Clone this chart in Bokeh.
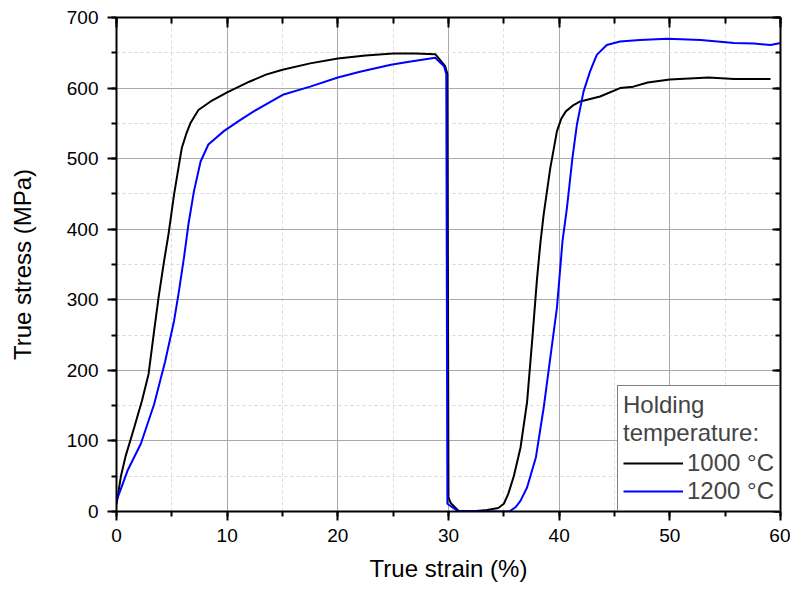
from bokeh.plotting import figure
from bokeh.models import (Range1d, LinearAxis, SingleIntervalTicker, Legend, LegendItem,
                          CustomLabelingPolicy)
from bokeh.embed import file_html
from bokeh.resources import INLINE

# --- data ---
strain_1000 = [0, 0.4, 0.8, 1.6, 2.3, 2.9, 3.4, 3.8, 4.3, 4.7, 5.2, 5.6, 5.9, 6.3, 6.7, 7.4, 8.5,
               10.0, 12.0, 13.5, 15.0, 17.5, 20.0, 22.5, 25.0, 27.0, 28.8, 29.7, 29.9, 30.0, 30.2,
               30.9, 32.0, 33.5, 34.5, 35.0, 35.4, 35.9, 36.5, 37.1, 37.6, 38.0, 38.3, 38.6, 39.2,
               39.8, 40.2, 40.6, 41.3, 41.9, 43.7, 45.5, 46.7, 48.0, 50.0, 52.2, 53.5, 55.8, 57.5, 59.1]
stress_1000 = [10, 50, 77, 119, 157, 195, 256, 303, 355, 393, 449, 487, 515, 535, 551, 569, 581,
               594, 609, 619, 626, 635, 642, 646, 649, 649, 648, 631, 620, 20, 12,
               1, 0, 2, 5, 11, 25, 50, 90, 155, 250, 330, 380, 421, 487,
               539, 557, 567, 576, 581, 588, 600, 602, 608, 612, 614, 615, 613, 613, 613]

strain_1200 = [0, 1.0, 2.2, 3.4, 4.4, 5.2, 5.6, 6.1, 6.5, 7.0, 7.6, 8.3, 9.7, 11.2, 12.4, 15.1,
               17.5, 20.0, 22.0, 24.8, 26.3, 28.8, 29.6, 29.8, 29.9, 30.8, 33.0, 35.5, 36.05, 36.5,
               37.1, 37.9, 38.6, 39.2, 39.8, 40.3, 40.7, 41.2, 41.6, 42.2, 42.8, 43.4, 44.3, 45.5,
               47.3, 49.8, 52.8, 55.8, 57.6, 59.1, 60.0]
stress_1200 = [15, 58, 96, 152, 213, 270, 308, 360, 407, 454, 496, 520, 539, 555, 567, 591,
               602, 615, 623, 633, 637, 643, 631, 620, 11, 1, 0, 0, 6, 15,
               34, 77, 147, 218, 289, 383, 430, 501, 548, 595, 624, 647, 661, 666,
               668, 670, 668, 664, 663, 661, 664]

series_labels = ["1000 °C", "1200 °C"]
legend_title = "Holding\ntemperature:"
x_label = "True strain (%)"
y_label = "True stress (MPa)"

FONT = "Liberation Sans"

p = figure(width=790, height=584, output_backend="svg", toolbar_location=None,
           x_range=Range1d(0, 60), y_range=Range1d(0, 700),
           min_border_left=116, min_border_right=10, min_border_top=17, min_border_bottom=71,
           background_fill_color="white", border_fill_color="white")
p.outline_line_color = None

xt = SingleIntervalTicker(interval=10, num_minor_ticks=2)
yt = SingleIntervalTicker(interval=100, num_minor_ticks=2)
p.xaxis.ticker = xt
p.yaxis.ticker = yt
p.xgrid.ticker = xt
p.ygrid.ticker = yt

for g in (p.xgrid, p.ygrid):
    g.grid_line_color = "#a9a9a9"
    g.grid_line_width = 1
    g.minor_grid_line_color = "#d9d9d9"
    g.minor_grid_line_dash = "3 3"
    g.minor_grid_line_width = 1

for ax in (p.xaxis[0], p.yaxis[0]):
    ax.axis_line_width = 2
    ax.axis_line_color = "black"
    ax.major_tick_line_width = 2
    ax.minor_tick_line_width = 2
    ax.major_tick_in = 0
    ax.major_tick_out = 9
    ax.minor_tick_in = 0
    ax.minor_tick_out = 5
    ax.major_label_text_font = FONT
    ax.major_label_text_font_size = "19px"
    ax.major_label_text_color = "black"
    ax.axis_label_text_font = FONT
    ax.axis_label_text_font_size = "24px"
    ax.axis_label_text_font_style = "normal"
    ax.axis_label_text_color = "black"

p.xaxis.axis_label = x_label
p.yaxis.axis_label = y_label
p.xaxis.major_label_standoff = 8
p.xaxis.axis_label_standoff = 10
p.yaxis.major_label_standoff = 9
p.yaxis.axis_label_standoff = 28

# top and right frame axes with inward ticks and no labels
hide_all = CustomLabelingPolicy(code="for (const i of indices) indices.unset(i); return indices")
top = LinearAxis(ticker=xt)
right = LinearAxis(ticker=yt)
for ax, din, dmin in ((top, 10, 6), (right, 8, 5)):
    ax.axis_line_width = 2
    ax.major_tick_line_width = 2
    ax.minor_tick_line_width = 2
    ax.major_tick_in = din
    ax.major_tick_out = 0
    ax.minor_tick_in = dmin
    ax.minor_tick_out = 0
    ax.major_label_policy = hide_all
    ax.major_label_text_font_size = "1px"
    ax.major_label_standoff = 0
p.add_layout(top, "above")
p.add_layout(right, "right")

r1 = p.line(strain_1000, stress_1000, line_color="black", line_width=2)
r2 = p.line(strain_1200, stress_1200, line_color="#0000ff", line_width=2)

legend = Legend(items=[LegendItem(label=series_labels[0], renderers=[r1]),
                       LegendItem(label=series_labels[1], renderers=[r2])],
                location="bottom_right", title=legend_title)
legend.margin = 0
legend.padding = 5
legend.spacing = 0
legend.glyph_width = 60
legend.glyph_height = 28
legend.label_height = 28
legend.label_standoff = 4
legend.label_text_font = FONT
legend.label_text_font_size = "24px"
legend.title_text_font = FONT
legend.title_text_font_size = "24px"
legend.title_text_font_style = "normal"
legend.title_standoff = 2
legend.border_line_color = "black"
legend.border_line_width = 1
legend.background_fill_alpha = 1
p.add_layout(legend, "center")

open("out.html", "w").write(file_html(p, INLINE))
